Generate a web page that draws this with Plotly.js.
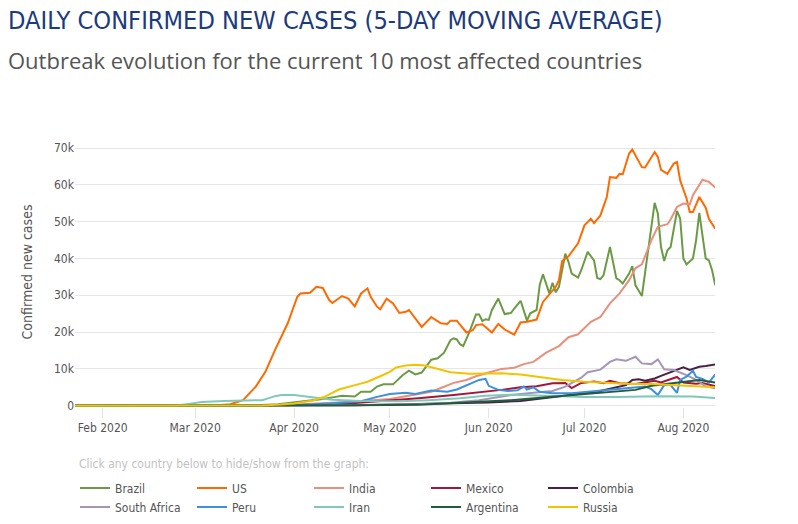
<!DOCTYPE html>
<html>
<head>
<meta charset="utf-8">
<script src="https://cdn.plot.ly/plotly-3.0.1.min.js"></script>
<style>
  html, body { margin: 0; padding: 0; background: #fff; }
  #chart { width: 798px; height: 524px; }
</style>
</head>
<body>
<div id="chart"></div>
<script>
// ---- Data (5-day moving average of daily confirmed cases) ----
const countries = ['Brazil', 'US', 'India', 'Mexico', 'Colombia', 'South Africa', 'Peru', 'Iran', 'Argentina', 'Russia'];

const brazilDates = ['1/23','2/26','3/6','3/13','3/20','3/27','4/1','4/6','4/10','4/14','4/16','4/20','4/22','4/25','4/27','4/29','5/2','5/5','5/7','5/9','5/11','5/14','5/16','5/18','5/20','5/21','5/22','5/23','5/24','5/26','5/28','5/29','5/30','5/31','6/1','6/2','6/4','6/6','6/8','6/9','6/11','6/13','6/14','6/16','6/17','6/18','6/20','6/21','6/22','6/23','6/25','6/26','6/27','6/29','6/30','7/2','7/4','7/5','7/6','7/7','7/9','7/11','7/12','7/13','7/15','7/16','7/17','7/19','7/21','7/23','7/24','7/25','7/26','7/27','7/28','7/30','7/31','8/1','8/2','8/4','8/5','8/6','8/8','8/9','8/10','8/11'];
const brazilCases = [0,0,5,30,150,400,900,1300,1800,2400,2700,2500,3800,3800,5200,5800,5800,8300,9500,8500,9000,12500,12900,14400,17800,18300,18000,16700,16200,20100,24800,24800,23000,23500,23300,26000,29100,24900,25200,26400,28500,23100,25100,26000,32900,35700,30500,33400,30800,32300,41300,39100,35900,34800,36800,41800,39500,34700,34400,35500,43100,34600,34100,33200,35900,37900,32700,29800,43100,55100,52200,43100,39300,42200,43100,52900,50800,40000,38400,40000,45000,52400,40000,39500,36800,32700];

const usDates = ['1/23','2/25','3/3','3/8','3/12','3/16','3/20','3/23','3/26','3/30','4/2','4/3','4/6','4/8','4/10','4/12','4/13','4/16','4/18','4/20','4/22','4/24','4/25','4/27','4/28','4/30','5/2','5/4','5/6','5/7','5/11','5/14','5/15','5/17','5/19','5/20','5/22','5/25','5/27','5/28','5/30','5/31','6/2','6/4','6/6','6/9','6/11','6/13','6/16','6/18','6/20','6/22','6/23','6/24','6/26','6/29','7/1','7/3','7/4','7/6','7/8','7/9','7/11','7/12','7/13','7/15','7/16','7/17','7/19','7/20','7/21','7/23','7/24','7/25','7/27','7/29','7/30','7/31','8/2','8/3','8/4','8/6','8/8','8/9','8/11'];
const usCases = [0,5,20,100,400,1500,5200,9200,15100,22400,29600,30500,30700,32300,32000,28700,27900,29800,29100,27000,30500,31900,29600,26900,26200,29100,27800,25200,25500,26000,21400,24100,23500,22400,22200,23100,23100,19900,20500,21900,22100,21400,19900,22200,20700,19300,22600,22800,23400,28200,30200,32300,34100,39300,40600,44100,49000,50800,49600,51700,56700,62100,61900,63000,62900,68500,69600,68000,64800,64700,66200,68900,67600,64100,63000,65800,66200,61200,56300,52600,52600,56700,53800,50800,48100];

const indiaDates = ['1/23','3/1','3/20','4/2','4/18','5/1','5/10','5/14','5/17','5/21','5/25','5/28','6/1','6/5','6/9','6/12','6/15','6/19','6/23','6/26','6/29','7/3','7/6','7/9','7/12','7/15','7/17','7/19','7/22','7/24','7/27','7/28','7/30','8/1','8/3','8/4','8/7','8/9','8/11'];
const indiaCases = [0,0,30,300,1000,1800,3300,3800,4800,6200,7000,8000,9000,10000,10300,11300,11900,14400,16200,18600,19400,22800,24100,27800,30500,34100,37400,38400,45000,48600,49300,50600,54000,54900,54700,57200,61400,60800,59300];

const mexicoDates = ['1/23','3/10','3/23','4/7','4/17','4/27','5/10','5/21','5/31','6/5','6/11','6/16','6/21','6/25','6/27','6/30','7/4','7/7','7/9','7/12','7/17','7/23','7/25','7/30','8/1','8/5','8/7','8/11'];
const mexicoCases = [0,0,30,200,500,1100,2000,2900,3800,4300,5000,5300,6100,6200,4800,6200,6600,6100,6800,6100,5900,6800,6300,7800,6300,6000,6200,5300];

const colombiaDates = ['1/23','3/15','4/1','4/20','5/2','5/17','6/1','6/11','6/18','6/24','6/29','7/5','7/10','7/14','7/16','7/18','7/20','7/23','7/25','7/29','7/31','8/1','8/3','8/6','8/8','8/11'];
const colombiaCases = [0,0,50,150,300,500,900,1300,2000,2700,3300,3800,4800,5600,7000,7200,6800,7400,8100,9300,10100,10400,9700,10600,10800,11200];

const southAfricaDates = ['1/23','3/10','3/25','4/10','4/25','5/10','5/20','5/29','6/8','6/15','6/21','6/25','6/30','7/2','7/6','7/9','7/11','7/14','7/17','7/19','7/22','7/24','7/26','7/29','8/2','8/5','8/8','8/11'];
const southAfricaCases = [0,0,80,80,200,400,800,1500,2900,3500,4000,5200,7600,9100,9800,11900,12600,12200,13300,11500,11300,12600,9900,9700,8300,7000,5300,4700];

const peruDates = ['1/23','3/8','3/23','4/2','4/12','4/17','4/22','4/27','5/1','5/6','5/9','5/14','5/19','5/22','5/26','5/29','5/31','6/1','6/4','6/7','6/10','6/12','6/13','6/15','6/17','6/21','6/27','7/2','7/9','7/14','7/20','7/22','7/24','7/26','7/28','7/30','7/31','8/2','8/4','8/5','8/7','8/9','8/11'];
const peruCases = [0,0,50,200,600,900,1200,2400,3200,3500,3200,4100,3800,4400,6000,7000,7300,5400,4300,4000,4200,5200,4400,5000,3800,3400,3400,3800,4300,4700,5200,4500,2900,5600,5600,3500,7000,7900,9500,7800,7300,6300,8500];

const iranDates = ['1/23','2/19','2/24','2/28','3/3','3/10','3/17','3/22','3/26','3/28','4/1','4/5','4/9','4/13','4/22','4/28','5/4','5/13','5/23','5/31','6/8','6/16','6/25','7/1','7/11','7/24','8/4','8/11'];
const iranCases = [0,0,50,500,1000,1300,1500,1500,2600,2900,2900,2400,2000,1600,1300,1200,1200,1500,2000,2700,3000,2800,2600,2400,2400,2600,2500,2100];

const argentinaDates = ['1/23','3/10','4/1','4/20','5/10','5/29','6/8','6/19','6/29','7/10','7/17','7/22','7/27','8/4','8/6','8/11'];
const argentinaCases = [0,0,80,120,250,1000,1500,2300,3000,3700,4300,5400,6000,6800,7000,6300];

const russiaDates = ['1/23','3/15','3/22','3/28','4/1','4/7','4/11','4/15','4/18','4/21','4/24','4/26','4/28','5/1','5/3','5/6','5/9','5/12','5/14','5/17','5/20','5/26','6/1','6/5','6/11','6/18','6/24','7/1','7/8','7/16','7/22','7/29','8/4','8/11'];
const russiaCases = [0,20,80,300,600,1400,2600,4400,5200,5800,6500,7200,8000,9200,10400,10900,11100,10900,10400,9700,9100,8700,8800,8800,8500,7700,7000,6500,6200,5900,5900,5600,5300,5000];

const colors = ['#6b9a45', '#ff6a00', '#e8907b', '#a5173a', '#4a2146', '#a596b8', '#3d8fe0', '#80c9b9', '#215d3a', '#f2c300'];

const TITLE = 'DAILY CONFIRMED NEW CASES (5-DAY MOVING AVERAGE)';
const SUBTITLE = 'Outbreak evolution for the current 10 most affected countries';
const Y_TITLE = 'Confirmed new cases';
const LEGEND_NOTE = 'Click any country below to hide/show from the graph:';

// ---- Build traces ----
function toISO(s) {
  const p = s.split('/');
  return '2020-' + p[0].padStart(2, '0') + '-' + p[1].padStart(2, '0');
}
const seriesDates = [brazilDates, usDates, indiaDates, mexicoDates, colombiaDates, southAfricaDates, peruDates, iranDates, argentinaDates, russiaDates];
const seriesCases = [brazilCases, usCases, indiaCases, mexicoCases, colombiaCases, southAfricaCases, peruCases, iranCases, argentinaCases, russiaCases];

const traces = countries.map((name, i) => ({
  type: 'scatter',
  mode: 'lines',
  name: name,
  x: seriesDates[i].map(toISO),
  y: seriesCases[i],
  line: { color: colors[i], width: 2 },
  hoverinfo: 'x+y+name'
}));

const BODY_FONT = '"DejaVu Sans Condensed", "DejaVu Sans", sans-serif';

const layout = {
  width: 798,
  height: 524,
  margin: { l: 75, r: 83, t: 137, b: 117, pad: 0 },
  paper_bgcolor: '#ffffff',
  plot_bgcolor: '#ffffff',
  font: { family: BODY_FONT, size: 12, color: '#555555' },
  title: {
    text: TITLE,
    font: { family: BODY_FONT, size: 25.2, color: '#1c3a7e' },
    x: 8 / 798, xref: 'container', xanchor: 'left',
    y: 1 - 20 / 524, yref: 'container', yanchor: 'middle'
  },
  annotations: [{
    text: SUBTITLE,
    xref: 'paper', yref: 'paper',
    x: (6 - 75) / 640, y: (407 - 60) / 270,
    xanchor: 'left', yanchor: 'middle',
    showarrow: false,
    font: { family: '"Open Sans", sans-serif', size: 22, color: '#555555' }
  }, {
    text: LEGEND_NOTE,
    xref: 'paper', yref: 'paper',
    x: (77 - 75) / 640, y: (407 - 464) / 270,
    xanchor: 'left', yanchor: 'middle',
    showarrow: false,
    font: { family: BODY_FONT, size: 12, color: '#c2c2c2' }
  }],
  xaxis: {
    type: 'date',
    range: ['2020-01-23 08:00', '2020-08-10 22:00'],
    tick0: '2020-02-01',
    dtick: 'M1',
    tickformat: '%b %Y',
    showgrid: false,
    zeroline: false,
    showline: false,
    ticks: 'outside',
    ticklen: 10,
    tickcolor: '#e3e3e3',
    tickfont: { size: 12, color: '#555555' }
  },
  yaxis: {
    range: [-350, 73000],
    tick0: 0,
    dtick: 10000,
    showgrid: true,
    gridcolor: '#e6e6e6',
    gridwidth: 1,
    zeroline: false,
    showline: false,
    ticks: '',
    tickfont: { size: 12, color: '#555555' },
    title: { text: Y_TITLE, font: { size: 14, color: '#555555' }, standoff: 18 }
  },
  showlegend: true,
  legend: {
    orientation: 'h',
    x: 0, xanchor: 'left',
    y: 1 - 473.5 / 524, yref: 'container', yanchor: 'top',
    entrywidth: 72,
    traceorder: 'normal',
    font: { size: 12, color: '#555555' },
    bgcolor: 'rgba(0,0,0,0)'
  }
};

Plotly.newPlot('chart', traces, layout, { displayModeBar: false });
</script>
</body>
</html>
